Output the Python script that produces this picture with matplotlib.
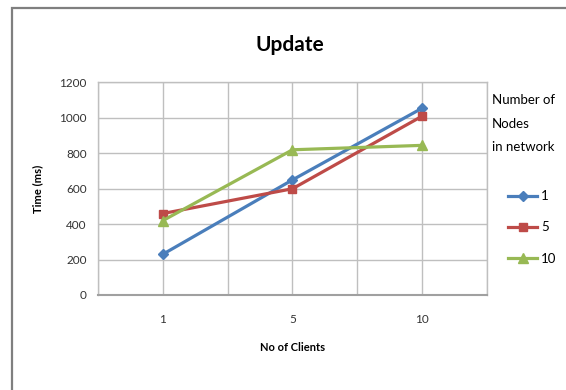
import matplotlib
matplotlib.use("Agg")
import matplotlib.pyplot as plt
from matplotlib.patches import Rectangle

# data
clients = ["1", "5", "10"]
nodes_1 = [230, 650, 1055]
nodes_5 = [460, 600, 1010]
nodes_10 = [420, 820, 845]
series_labels = ["1", "5", "10"]
legend_title = ["Number of", "Nodes", "in network"]
y_ticks = [0, 200, 400, 600, 800, 1000, 1200]

plt.rcParams['font.family'] = ['Lato', 'DejaVu Sans']

fig = plt.figure(figsize=(5.66, 3.90), dpi=100)
ax = fig.add_axes([0.1731, 0.2436, 0.6873, 0.5449])

# outer chart border
fig.patches.append(Rectangle((12 / 566, -0.05), 1.1, 1 - 8 / 390 + 0.05,
                             transform=fig.transFigure, fill=False,
                             edgecolor='#7f7f7f', linewidth=1.6))

x = [1, 2, 3]
ax.plot(x, nodes_1, color='#4A7EBB', marker='D', markersize=5, linewidth=2.3, label=series_labels[0])
ax.plot(x, nodes_5, color='#BE4B48', marker='s', markersize=6, linewidth=2.3, label=series_labels[1])
ax.plot(x, nodes_10, color='#98B954', marker='^', markersize=7, linewidth=2.3, label=series_labels[2])

ax.set_xlim(0.5, 3.5)
ax.set_ylim(0, 1200)
ax.set_xticks(x)
ax.set_xticklabels(clients)
ax.set_xticks([0.5, 1.5, 2.5, 3.5], minor=True)
ax.set_yticks(y_ticks)
ax.grid(True, which='both', color='#bfbfbf', linewidth=1.0)
ax.set_axisbelow(True)
ax.tick_params(which='both', length=0, labelsize=8.5, colors='#333333', pad=8)
ax.tick_params(axis='x', pad=14)
for s in ax.spines.values():
    s.set_color('#bfbfbf')
    s.set_linewidth(1.0)
ax.spines['bottom'].set_color('#a0a0a0')
ax.spines['bottom'].set_linewidth(1.5)

fig.text(0.512, 0.885, "Update", ha='center', va='center', fontsize=15, fontweight='bold')
ax.set_ylabel("Time (ms)", fontsize=8, fontweight='bold', labelpad=12)
ax.set_xlabel("No of Clients", fontsize=8, fontweight='bold', labelpad=12)

# legend title, one line at a time (wide line gaps as in the original)
for i, line in enumerate(legend_title):
    fig.text(492 / 566, 1 - (100 + 23.5 * i) / 390, line, ha='left', va='center', fontsize=9.5)
ax.legend(loc='upper left', bbox_to_anchor=(503 / 566, 1 - 185 / 390),
          bbox_transform=fig.transFigure, frameon=False, fontsize=9.5,
          labelspacing=1.45, handlelength=2.2, handletextpad=0.3, borderaxespad=0)

fig.savefig("out.png", dpi=100)
